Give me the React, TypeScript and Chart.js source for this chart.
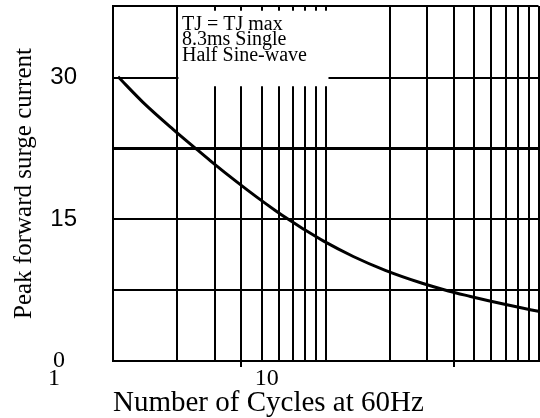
import React, { useEffect, useRef } from "react";
import { Chart, registerables } from "chart.js";

Chart.register(...registerables);

// ---- data ----
const CYCLES = [1.056, 1.384, 1.916, 2.486, 2.861, 3.832, 4.76, 5.79, 6.81, 7.84, 9.73, 13.47, 19.05, 28.4, 37.7, 47.9, 57.6, 68.4, 79.7, 100];
const CURRENT = [30.11, 27.4, 24.54, 22.38, 21.23, 18.94, 17.33, 15.95, 14.87, 13.99, 12.72, 11.07, 9.6, 8.23, 7.42, 6.84, 6.41, 6.03, 5.71, 5.26];

const X_MIN = 1;
const X_MAX = 100;
const Y_MIN = 0;
const Y_MAX = 37.6;

const X_GRID = [1, 2, 3, 4, 5, 6, 7, 8, 9, 10, 20, 30, 40, 50, 60, 70, 80, 90, 100];
const X_TICK_MARKS = [4, 40];
const X_LABELS: Record<number, string> = { 1: "1", 10: "10" };

const Y_GRID = [0, 7.5, 15, 22.5, 30, 37.6];
const Y_LABELS: Record<number, string> = { 0: "0  ", 15: "15", 30: "30" };
const Y_SANS_LABELS = [15, 30];
const Y_HEAVY = 22.5;

const NOTE_LINES = ["TJ = TJ max", "8.3ms Single", "Half Sine-wave"];
const NOTE_BOX = { x0: 2.03, x1: 10.3, y0: 29.1, y1: 37.1 };
const NOTE_TEXT_AT = { x: 2.11, y: 35.1 };

const X_TITLE = "Number of Cycles at 60Hz";
const Y_TITLE = "Peak forward surge current";

const SERIF = '"Liberation Serif", "Times New Roman", serif';
const SANS = '"Liberation Sans", Arial, sans-serif';

const notePlugin = {
  id: "note",
  beforeDatasetsDraw(chart: any) {
    const { ctx } = chart;
    const x = chart.scales.x;
    const y = chart.scales.y;
    const l = x.getPixelForValue(NOTE_BOX.x0);
    const r = x.getPixelForValue(NOTE_BOX.x1);
    const t = y.getPixelForValue(NOTE_BOX.y1);
    const b = y.getPixelForValue(NOTE_BOX.y0);
    ctx.save();
    ctx.fillStyle = "#ffffff";
    ctx.fillRect(l, t, r - l, b - t);
    ctx.fillStyle = "#000000";
    ctx.font = `20px ${SERIF}`;
    ctx.textAlign = "left";
    ctx.textBaseline = "alphabetic";
    const tx = x.getPixelForValue(NOTE_TEXT_AT.x);
    const ty = y.getPixelForValue(NOTE_TEXT_AT.y);
    NOTE_LINES.forEach((s, i) => ctx.fillText(s, tx, ty + i * 15.5));
    ctx.restore();
  },
};

export default function App() {
  const ref = useRef<HTMLCanvasElement>(null);

  useEffect(() => {
    document.body.style.margin = "0";
    const points = CYCLES.map((c, i) => ({ x: c, y: CURRENT[i] }));
    const chart = new Chart(ref.current as HTMLCanvasElement, {
      type: "scatter",
      data: {
        datasets: [
          {
            data: points,
            showLine: true,
            borderColor: "#000000",
            borderWidth: 3,
            pointRadius: 0,
            cubicInterpolationMode: "monotone",
          } as any,
        ],
      },
      options: {
        responsive: false,
        devicePixelRatio: 1,
        animation: false,
        layout: { padding: { top: 6, right: 1.5, left: 0, bottom: 0 } },
        plugins: { legend: { display: false }, tooltip: { enabled: false } },
        scales: {
          x: {
            type: "logarithmic",
            min: X_MIN,
            max: X_MAX,
            afterBuildTicks: (s: any) => {
              s.ticks = X_GRID.map((v) => ({ value: v }));
            },
            afterFit: (s: any) => {
              s.height = 57;
            },
            grid: {
              color: "#000000",
              lineWidth: 2,
              drawTicks: true,
              tickLength: 6,
              tickWidth: 2,
              tickColor: (c: any) =>
                c.tick && X_TICK_MARKS.includes(c.tick.value) ? "#000000" : "rgba(0,0,0,0)",
            },
            border: { display: true, color: "#000000", width: 2 },
            ticks: {
              autoSkip: false,
              maxRotation: 0,
              minRotation: 0,
              padding: 0,
              labelOffset: -59,
              color: "#000000",
              font: { family: SERIF, size: 24, lineHeight: 1 },
              callback: (v: any) => X_LABELS[Number(v)] ?? "",
            },
            title: {
              display: true,
              text: X_TITLE,
              align: "start",
              color: "#000000",
              font: { family: SERIF, size: 29, lineHeight: 1 },
              padding: { top: 0, bottom: 0 },
            },
          },
          y: {
            type: "linear",
            min: Y_MIN,
            max: Y_MAX,
            afterBuildTicks: (s: any) => {
              s.ticks = Y_GRID.map((v) => ({ value: v }));
            },
            afterFit: (s: any) => {
              s.width = 113;
            },
            grid: {
              color: "#000000",
              lineWidth: (c: any) => (c.tick && c.tick.value === Y_HEAVY ? 3 : 2),
              drawTicks: true,
              tickLength: 36,
              tickColor: "rgba(0,0,0,0)",
            },
            border: { display: true, color: "#000000", width: 2 },
            ticks: {
              autoSkip: false,
              padding: 0,
              color: "#000000",
              font: (c: any) => {
                const v = c.tick ? c.tick.value : undefined;
                if (Y_SANS_LABELS.includes(v)) return { family: SANS, size: 24, lineHeight: 1 };
                if (v === 0) return { family: SERIF, size: 24, lineHeight: 1 };
                return { family: SERIF, size: 1, lineHeight: 1 };
              },
              callback: (v: any) => Y_LABELS[Number(v)] ?? "",
            },
            title: {
              display: true,
              text: Y_TITLE,
              color: "#000000",
              font: { family: SERIF, size: 25, lineHeight: 1.2 },
              padding: { top: 9, bottom: 0 },
            },
          },
        },
      } as any,
      plugins: [notePlugin],
    });
    return () => chart.destroy();
  }, []);

  return (
    <div style={{ width: 540, height: 418 }}>
      <canvas ref={ref} width={540} height={418} style={{ display: "block" }} />
    </div>
  );
}
